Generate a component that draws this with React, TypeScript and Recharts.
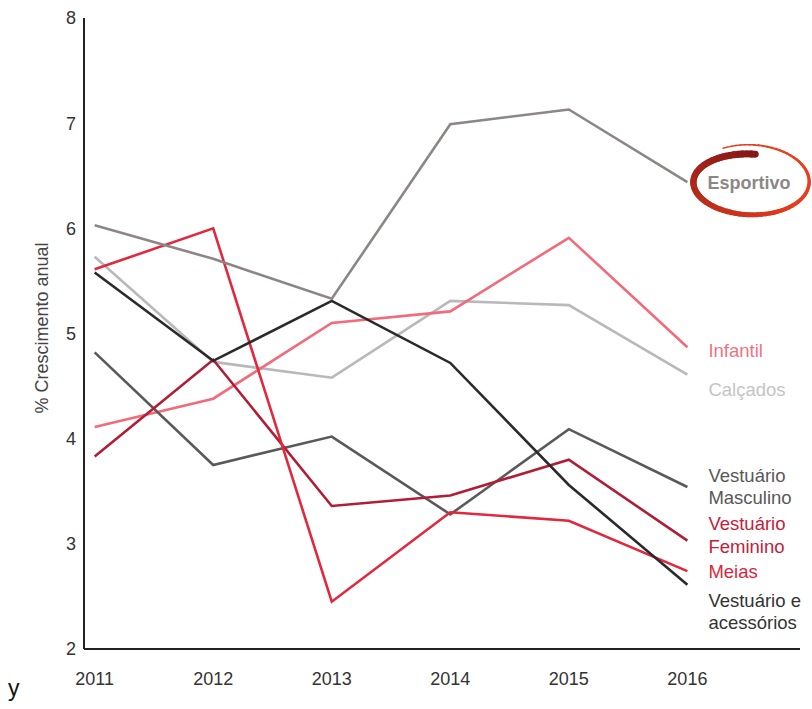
import React from 'react';
import { LineChart, Line, XAxis, YAxis, LabelList } from 'recharts';

const years = [2011, 2012, 2013, 2014, 2015, 2016];
const yTicks = [2, 3, 4, 5, 6, 7, 8];

const esportivo = [6.03, 5.71, 5.33, 6.99, 7.13, 6.44];
const vestAcessorios = [5.58, 4.74, 5.31, 4.72, 3.56, 2.61];
const infantil = [4.11, 4.38, 5.10, 5.21, 5.91, 4.87];
const calcados = [5.73, 4.73, 4.58, 5.31, 5.27, 4.61];
const vestMasculino = [4.82, 3.75, 4.02, 3.28, 4.09, 3.54];
const vestFeminino = [3.83, 4.75, 3.36, 3.46, 3.80, 3.03];
const meias = [5.61, 6.00, 2.45, 3.30, 3.22, 2.74];

const data = years.map((year, i) => ({
  year,
  esportivo: esportivo[i],
  vestAcessorios: vestAcessorios[i],
  infantil: infantil[i],
  calcados: calcados[i],
  vestMasculino: vestMasculino[i],
  vestFeminino: vestFeminino[i],
  meias: meias[i],
}));

const FONT = '"Liberation Sans", Arial, Helvetica, sans-serif';
const LAST = years.length - 1;

const makeEndLabel = (lines: string[], color: string, offsets: number[]) => (props: any) => {
  const { x, y, index } = props;
  if (index !== LAST || x == null || y == null) return null;
  return (
    <text fontFamily={FONT} fontSize={18.5} fill={color}>
      {lines.map((l, k) => (
        <tspan key={k} x={x + 21} y={y + offsets[k]} dominantBaseline="central">
          {l}
        </tspan>
      ))}
    </text>
  );
};

const lerp = (a: number, b: number, t: number) => a + (b - a) * t;
const mixColor = (c1: number[], c2: number[], t: number) =>
  `rgb(${Math.round(lerp(c1[0], c2[0], t))},${Math.round(lerp(c1[1], c2[1], t))},${Math.round(lerp(c1[2], c2[2], t))})`;

const EsportivoLabel = (props: any) => {
  const { x, y, index } = props;
  if (index !== LAST || x == null || y == null) return null;
  const cx = x + 63;
  const cy = y;
  const segs: React.ReactNode[] = [];
  const N = 90;
  const dark = [132, 24, 22];
  const bright = [232, 62, 30];
  for (let s = 0; s < N; s++) {
    const t0 = s / N;
    const t1 = (s + 1) / N;
    const pt = (t: number) => {
      const th = ((-85 - t * 392) * Math.PI) / 180;
      const rx = 56 + 4 * t;
      const ry = 28 + 10 * t;
      return [cx + rx * Math.cos(th), cy + ry * Math.sin(th)];
    };
    const [x0, y0] = pt(t0);
    const [x1, y1] = pt(t1);
    const tm = (t0 + t1) / 2;
    const w = tm < 0.3 ? 7 - tm * 3 : Math.max(1.4, 6.1 - (tm - 0.3) * 7);
    const col = mixColor(dark, bright, Math.min(1, tm * 1.6));
    segs.push(
      <line key={s} x1={x0} y1={y0} x2={x1} y2={y1} stroke={col} strokeWidth={w} strokeLinecap="round" />
    );
  }
  return (
    <g>
      {segs}
      <text
        x={x + 20}
        y={y + 1}
        fontFamily={FONT}
        fontSize={18}
        fontWeight="bold"
        fill="#8c8787"
        dominantBaseline="central"
      >
        Esportivo
      </text>
    </g>
  );
};

const series = [
  { key: 'calcados', color: '#b9b9bd', label: makeEndLabel(['Calçados'], '#c4c4c6', [15]) },
  { key: 'infantil', color: '#f26b7a', label: makeEndLabel(['Infantil'], '#f07382', [3]) },
  { key: 'vestMasculino', color: '#5b5858', label: makeEndLabel(['Vestuário', 'Masculino'], '#5a5757', [-12, 10]) },
  { key: 'vestFeminino', color: '#b11d36', label: makeEndLabel(['Vestuário', 'Feminino'], '#c4203c', [-17, 6]) },
  { key: 'meias', color: '#e0283e', label: makeEndLabel(['Meias'], '#d8283e', [0]) },
  { key: 'vestAcessorios', color: '#2a2a2a', label: makeEndLabel(['Vestuário e', 'acessórios'], '#333333', [16, 38]) },
  { key: 'esportivo', color: '#8c8685', label: EsportivoLabel },
];

export default function App() {
  return (
    <div style={{ position: 'absolute', left: 0, top: 0, width: 812, height: 709, background: '#ffffff' }}>
      <LineChart
        width={812}
        height={709}
        data={data}
        margin={{ top: 18, right: 12, bottom: 0, left: 0 }}
      >
        <XAxis
          dataKey="year"
          type="number"
          domain={[2010.91, 2016.95]}
          ticks={years}
          allowDataOverflow
          tickLine={false}
          height={60}
          tickMargin={17}
          axisLine={{ stroke: '#222222', strokeWidth: 2 }}
          tick={{ fill: '#333333', fontSize: 18, fontFamily: FONT }}
        />
        <YAxis
          type="number"
          domain={[2, 8]}
          ticks={yTicks}
          width={84}
          tickLine={false}
          axisLine={{ stroke: '#222222', strokeWidth: 2 }}
          tick={{ fill: '#333333', fontSize: 18, fontFamily: FONT }}
          label={{
            content: () => (
              <text
                x={42}
                y={328}
                transform="rotate(-90 42 328)"
                textAnchor="middle"
                dominantBaseline="central"
                fontFamily={FONT}
                fontSize={18}
                fill="#444444"
              >
                % Crescimento anual
              </text>
            ),
          }}
        />
        {series.map((s) => (
          <Line
            key={s.key}
            type="linear"
            dataKey={s.key}
            stroke={s.color}
            strokeWidth={2.6}
            dot={false}
            activeDot={false}
            isAnimationActive={false}
          >
            <LabelList dataKey={s.key} content={s.label} />
          </Line>
        ))}
      </LineChart>
      <div
        style={{
          position: 'absolute',
          left: 8,
          top: 676,
          fontFamily: FONT,
          fontSize: 23,
          color: '#111111',
          lineHeight: '24px',
        }}
      >
        y
      </div>
    </div>
  );
}
